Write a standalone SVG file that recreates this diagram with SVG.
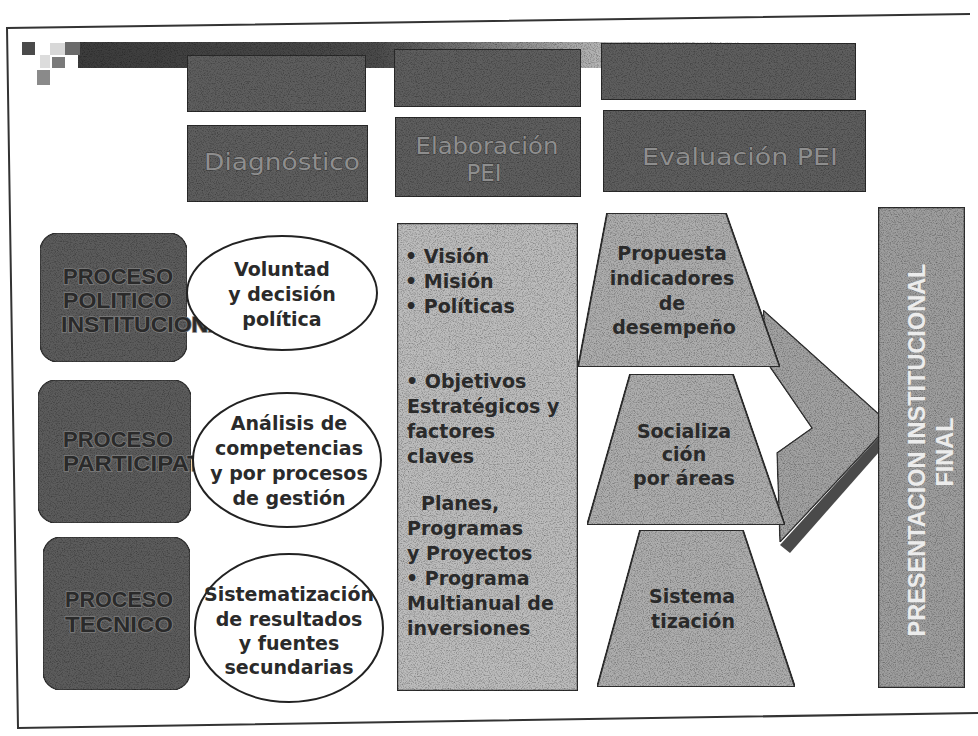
<svg xmlns="http://www.w3.org/2000/svg" width="978" height="736" viewBox="0 0 978 736">
<defs>
  <filter id="grain" x="0" y="0" width="100%" height="100%" color-interpolation-filters="sRGB">
    <feTurbulence type="fractalNoise" baseFrequency="0.85" numOctaves="2" seed="7" result="noise"/>
    <feColorMatrix in="noise" type="matrix" values="0.8 0 0 0 0.55  0.8 0 0 0 0.55  0.8 0 0 0 0.55  0 0 0 0 1" result="g"/>
    <feBlend in="SourceGraphic" in2="g" mode="multiply" result="m"/>
    <feComposite in="m" in2="SourceGraphic" operator="in"/>
  </filter>
  <linearGradient id="barGrad" x1="78" y1="0" x2="740" y2="0" gradientUnits="userSpaceOnUse">
    <stop offset="0" stop-color="#3c3c3c"/>
    <stop offset="0.45" stop-color="#4a4a4a"/>
    <stop offset="0.75" stop-color="#a8a8a8"/>
    <stop offset="1" stop-color="#ffffff"/>
  </linearGradient>
  <clipPath id="clipE1"><path d="M 30 225 H 400 V 370 H 30 Z M 187 293 A 95 57 0 1 0 377 293 A 95 57 0 1 0 187 293 Z" clip-rule="evenodd"/></clipPath>
  <clipPath id="clipE2"><path d="M 30 375 H 400 V 530 H 30 Z M 193 460 A 94 67 0 1 0 381 460 A 94 67 0 1 0 193 460 Z" clip-rule="evenodd"/></clipPath>
  <style>
    .hdr { fill:#5e5e5e; stroke:#2a2a2a; stroke-width:2; filter:url(#grain); }
    .hdrtxt { font-family:"DejaVu Sans", Verdana, sans-serif; font-size:23px; fill:#8e8e8e; stroke:#333; stroke-width:0.8; paint-order:stroke; text-anchor:middle; }
    .proc { fill:#5c5c5c; stroke:#333; stroke-width:1.5; filter:url(#grain); }
    .proctxt { font-family:"Liberation Sans", Arial, sans-serif; font-weight:bold; font-size:22px; fill:#2a2a2a; stroke:#7e7e7e; stroke-width:1.6; paint-order:stroke; }
    .ell { fill:#ffffff; stroke:#222; stroke-width:2; }
    .btxt { font-family:"DejaVu Sans", Verdana, sans-serif; font-weight:bold; font-size:19px; fill:#2a2a2a; }
    .mid { text-anchor:middle; }
    .cbox { fill:#bcbcbc; stroke:#2e2e2e; stroke-width:2.5; filter:url(#grain); }
    .trap { fill:#adadad; stroke:#2e2e2e; stroke-width:2; filter:url(#grain); }
    .arrow { fill:#a2a2a2; stroke:#333; stroke-width:1.5; filter:url(#grain); }
    .final { fill:#9e9e9e; stroke:#2e2e2e; stroke-width:2.5; filter:url(#grain); }
    .finaltxt { font-family:"Liberation Sans", Arial, sans-serif; font-weight:bold; font-size:23.5px; fill:#ececec; text-anchor:middle; }
  </style>
</defs>

<rect x="0" y="0" width="978" height="736" fill="#ffffff"/>

<!-- frame -->
<path d="M 970 14 L 7 28 L 18 728 L 978 713" fill="none" stroke="#333" stroke-width="2"/>

<!-- decorative title bar -->
<g id="titlebar">
  <rect x="78" y="42" width="662" height="26" fill="url(#barGrad)" filter="url(#grain)"/>
  <rect x="22" y="42" width="13" height="13" fill="#4a4a4a"/>
  <rect x="65" y="42" width="15" height="13" fill="#6a6a6a"/>
  <rect x="50" y="43" width="15" height="12" fill="#d8d8d8"/>
  <rect x="52" y="57" width="13" height="11" fill="#7a7a7a"/>
  <rect x="40" y="55" width="10" height="13" fill="#dcdcdc"/>
  <rect x="37" y="70" width="13" height="15" fill="#8a8a8a"/>
</g>

<!-- header boxes -->
<g id="hdr-top-1"><rect class="hdr" x="187" y="55" width="179" height="57"/></g>
<g id="hdr-top-2"><rect class="hdr" x="394" y="49" width="187" height="58"/></g>
<g id="hdr-top-3"><rect class="hdr" x="601" y="43" width="255" height="57"/></g>

<g id="hdr-diagnostico">
  <rect class="hdr" x="187" y="125" width="181" height="77"/>
  <text class="hdrtxt" x="282" y="170" textLength="156" lengthAdjust="spacingAndGlyphs">Diagnóstico</text>
</g>
<g id="hdr-elaboracion">
  <rect class="hdr" x="395" y="117" width="186" height="80"/>
  <text class="hdrtxt" x="487" y="154" textLength="143" lengthAdjust="spacingAndGlyphs">Elaboración</text>
  <text class="hdrtxt" x="484" y="181">PEI</text>
</g>
<g id="hdr-evaluacion">
  <rect class="hdr" x="603" y="110" width="263" height="82"/>
  <text class="hdrtxt" x="740" y="165" textLength="196" lengthAdjust="spacingAndGlyphs">Evaluación PEI</text>
</g>

<!-- connectors (big arrow) -->
<g id="connectors">
  <polygon points="882,433 887,443 790,553 780,545" fill="#4a4a4a"/>
  <polygon class="arrow" points="763,310 882,417 882,433 780,542 777,453 812,428 770,367"/>
</g>

<!-- process boxes -->
<g id="proc-politico">
  <rect class="proc" x="40" y="233" width="147" height="129" rx="18"/>
  <text class="proctxt" x="63" y="284" textLength="110" lengthAdjust="spacingAndGlyphs">PROCESO</text>
  <text class="proctxt" x="63" y="308" textLength="109" lengthAdjust="spacingAndGlyphs">POLITICO</text>
  <text class="proctxt" x="61" y="332" textLength="178" lengthAdjust="spacingAndGlyphs" clip-path="url(#clipE1)">INSTITUCIONAL</text>
</g>
<g id="proc-participativo">
  <rect class="proc" x="38" y="380" width="153" height="143" rx="18"/>
  <text class="proctxt" x="63" y="447" textLength="110" lengthAdjust="spacingAndGlyphs">PROCESO</text>
  <text class="proctxt" x="63" y="471" textLength="180" lengthAdjust="spacingAndGlyphs" clip-path="url(#clipE2)">PARTICIPATIVO</text>
</g>
<g id="proc-tecnico">
  <rect class="proc" x="43" y="537" width="147" height="153" rx="18"/>
  <text class="proctxt" x="65" y="607" textLength="108" lengthAdjust="spacingAndGlyphs">PROCESO</text>
  <text class="proctxt" x="65" y="632" textLength="108" lengthAdjust="spacingAndGlyphs">TECNICO</text>
</g>

<!-- ellipses -->
<g id="ell-voluntad">
  <ellipse class="ell" cx="282" cy="293" rx="95" ry="57"/>
  <text class="btxt mid" x="282" y="276">Voluntad</text>
  <text class="btxt mid" x="282" y="301">y decisión</text>
  <text class="btxt mid" x="282" y="326">política</text>
</g>
<g id="ell-analisis">
  <ellipse class="ell" cx="287" cy="460" rx="94" ry="67"/>
  <text class="btxt mid" x="289" y="430">Análisis de</text>
  <text class="btxt mid" x="289" y="455">competencias</text>
  <text class="btxt mid" x="289" y="480">y por procesos</text>
  <text class="btxt mid" x="289" y="505">de gestión</text>
</g>
<g id="ell-sistematizacion">
  <ellipse class="ell" cx="289" cy="628" rx="94" ry="74"/>
  <text class="btxt mid" x="289" y="601">Sistematización</text>
  <text class="btxt mid" x="289" y="626">de resultados</text>
  <text class="btxt mid" x="289" y="650">y fuentes</text>
  <text class="btxt mid" x="289" y="674">secundarias</text>
</g>

<!-- central box -->
<g id="pei-contenido">
  <rect class="cbox" x="397" y="223" width="181" height="468"/>
  <text class="btxt" x="405" y="263">• Visión</text>
  <text class="btxt" x="405" y="288">• Misión</text>
  <text class="btxt" x="405" y="313">• Políticas</text>
  <text class="btxt" x="406" y="388">• Objetivos</text>
  <text class="btxt" x="407" y="413">Estratégicos y</text>
  <text class="btxt" x="407" y="438">factores</text>
  <text class="btxt" x="407" y="463">claves</text>
  <text class="btxt" x="421" y="510">Planes,</text>
  <text class="btxt" x="407" y="535">Programas</text>
  <text class="btxt" x="407" y="560">y Proyectos</text>
  <text class="btxt" x="406" y="585">• Programa</text>
  <text class="btxt" x="407" y="610">Multianual de</text>
  <text class="btxt" x="407" y="635">inversiones</text>
</g>

<!-- trapezoids -->
<g id="trap-propuesta">
  <polygon class="trap" points="607,213 726,213 780,367 578,367"/>
  <text class="btxt mid" x="672" y="260">Propuesta</text>
  <text class="btxt mid" x="672" y="285">indicadores</text>
  <text class="btxt mid" x="672" y="310">de</text>
  <text class="btxt mid" x="674" y="334">desempeño</text>
</g>
<g id="trap-socializacion">
  <polygon class="trap" points="630,374 733,374 785,525 587,525"/>
  <text class="btxt mid" x="684" y="438">Socializa</text>
  <text class="btxt mid" x="684" y="461">ción</text>
  <text class="btxt mid" x="684" y="485">por áreas</text>
</g>
<g id="trap-sistematizacion">
  <polygon class="trap" points="640,530 743,530 795,687 597,687"/>
  <text class="btxt mid" x="692" y="603">Sistema</text>
  <text class="btxt mid" x="693" y="628">tización</text>
</g>

<!-- final presentation box -->
<g id="presentacion-final">
  <rect class="final" x="878" y="207" width="87" height="481"/>
  <text class="finaltxt" transform="translate(925,450) rotate(-90)" x="0" y="0">PRESENTACION INSTITUCIONAL</text>
  <text class="finaltxt" transform="translate(953,452) rotate(-90)" x="0" y="0">FINAL</text>
</g>
</svg>
